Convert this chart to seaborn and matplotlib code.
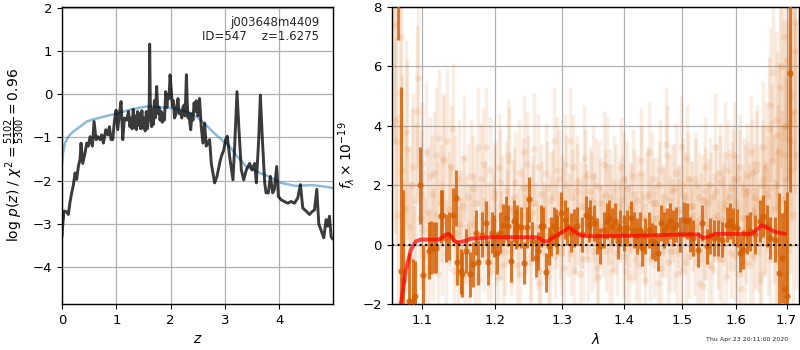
import numpy as np
import matplotlib
matplotlib.use("Agg")
import matplotlib.pyplot as plt
import seaborn as sns

# ---------------- left panel: log p(z) ----------------
z_pdf = [0.000, 0.012, 0.037, 0.086, 0.117, 0.147, 0.178, 0.209, 0.240, 0.270,
         0.301, 0.332, 0.350, 0.381, 0.424, 0.455, 0.485, 0.516, 0.559, 0.590,
         0.627, 0.657, 0.700, 0.731, 0.762, 0.805, 0.842, 0.872, 0.903, 0.934,
         0.965, 0.995, 1.026, 1.057, 1.087, 1.118, 1.149, 1.192, 1.223, 1.250,
         1.270, 1.290, 1.310, 1.330, 1.350, 1.370, 1.390, 1.410, 1.430, 1.450,
         1.470, 1.490, 1.510, 1.530, 1.550, 1.570, 1.590, 1.605, 1.613, 1.625,
         1.650, 1.665, 1.680, 1.700, 1.715, 1.742, 1.755, 1.770, 1.785, 1.804,
         1.825, 1.845, 1.865, 1.885, 1.908, 1.930, 1.950, 1.970, 1.988, 2.010,
         2.031, 2.050, 2.070, 2.092, 2.110, 2.135, 2.155, 2.184, 2.205, 2.225,
         2.246, 2.265, 2.289, 2.305, 2.320, 2.338, 2.355, 2.369, 2.390, 2.410,
         2.430, 2.450, 2.470, 2.500,
         2.531, 2.562, 2.593, 2.624, 2.654, 2.716, 2.747, 2.808, 2.851, 2.900,
         2.931, 2.974, 3.011, 3.041, 3.084, 3.146, 3.177, 3.220, 3.256, 3.300,
         3.343, 3.392, 3.453, 3.496, 3.545, 3.576, 3.619, 3.650, 3.687, 3.730,
         3.754, 3.797, 3.834, 3.877, 3.907, 3.950, 3.981, 4.030, 4.092, 4.153,
         4.215, 4.276, 4.337, 4.387, 4.430, 4.491, 4.553, 4.614, 4.645, 4.688,
         4.725, 4.768, 4.817, 4.860, 4.890, 4.921, 4.952, 4.982]
logp_pdf = [-3.30, -3.05, -2.70, -2.72, -2.78, -2.50, -2.28, -2.10, -1.82, -1.97,
            -1.67, -1.50, -1.13, -1.60, -1.36, -1.13, -1.20, -0.98, -1.20, -0.63,
            -1.05, -0.98, -1.05, -0.94, -1.13, -0.82, -0.94, -0.75, -1.05, -1.05,
            -0.60, -0.37, -0.82, -0.44, -0.17, -1.05, -0.55, -0.60, -0.40, -0.75,
            -0.55, -0.80, -0.35, -0.78, -0.50, -0.82, -0.40, -0.72, -0.45, -0.80,
            -0.38, -0.78, -0.55, -0.85, -0.40, -0.80, -0.60, -0.20, 1.16, -0.20,
            -0.75, -0.35, -0.70, -0.15, -0.55, 0.18, -0.20, -0.45, -0.30, -0.60,
            -0.40, -0.65, -0.44, -0.60, 0.06, -0.30, 0.00, -0.10, 0.45, 0.10,
            -0.28, -0.15, -0.55, -0.48, -0.30, -0.10, -0.45, -0.40, -0.55, -0.30,
            -0.25, -0.50, 0.45, -0.20, -0.55, -0.44, -0.70, -0.82, -0.45, -0.60,
            -0.20, -0.40, -0.15, -0.50,
            -0.10, -0.75, -1.13, -0.67, -1.20, -1.05, -1.60, -2.05, -1.90, -1.60,
            -1.44, -1.30, -1.05, -0.97, -1.44, -1.98, -1.20, 0.06, -0.82, -1.75,
            -1.98, -1.75, -1.60, -1.75, -1.60, -2.05, -1.05, -0.02, -1.05, -2.05,
            -2.28, -2.28, -1.90, -2.28, -2.20, -1.67, -2.36, -2.44, -2.48, -2.52,
            -2.48, -2.52, -2.40, -2.09, -2.63, -2.70, -2.78, -2.70, -2.68, -2.20,
            -3.00, -3.15, -3.32, -2.90, -3.05, -2.82, -3.30, -3.35]

z_prior = [0.000, 0.020, 0.055, 0.117, 0.209, 0.332, 0.455, 0.578, 0.762, 1.000,
           1.270, 1.570, 2.000, 2.200, 2.370, 2.470, 2.600, 2.800, 3.000, 3.080,
           3.200, 3.390, 3.600, 3.770, 4.030, 4.300, 4.600, 4.800, 4.990]
logp_prior = [-1.62, -1.35, -1.13, -0.98, -0.86, -0.75, -0.63, -0.58, -0.52, -0.45,
              -0.35, -0.28, -0.32, -0.36, -0.44, -0.52, -0.65, -0.90, -1.12, -1.20,
              -1.40, -1.67, -1.80, -1.88, -2.05, -2.12, -2.10, -2.13, -2.17]

# ---------------- right panel: spectrum ----------------
bin_wave = [1.0690, 1.0728, 1.0749, 1.0834, 1.0878, 1.0907, 1.0973, 1.1017, 1.1087, 1.1117,
            1.1161, 1.1192, 1.1250, 1.1272, 1.1317, 1.1362, 1.1416, 1.1453, 1.1476, 1.1522,
            1.1545, 1.1590, 1.1649, 1.1686, 1.1732, 1.1756, 1.1813, 1.1873, 1.1906, 1.1963,
            1.1988, 1.2035, 1.2070, 1.2117, 1.2157, 1.2190, 1.2229, 1.2278, 1.2303, 1.2327,
            1.2376, 1.2425, 1.2474, 1.2504, 1.2549, 1.2599, 1.2640, 1.2676, 1.2716, 1.2761,
            1.2802, 1.2828, 1.2879, 1.2905, 1.2930, 1.2982, 1.3049, 1.3085, 1.3138, 1.3190,
            1.3242, 1.3311, 1.3375, 1.3423, 1.3449, 1.3503, 1.3557, 1.3610, 1.3665, 1.3720,
            1.3758, 1.3802, 1.3857, 1.3896, 1.3940, 1.3997, 1.4052, 1.4119, 1.4164, 1.4220,
            1.4266, 1.4305, 1.4362, 1.4420, 1.4477, 1.4535, 1.4582, 1.4633, 1.4691, 1.4738,
            1.4796, 1.4844, 1.4903, 1.4974, 1.5035, 1.5089, 1.5149, 1.5209, 1.5300, 1.5373,
            1.5453, 1.5515, 1.5595, 1.5670, 1.5733, 1.5827, 1.5890, 1.5953, 1.6017, 1.6081,
            1.6145, 1.6210, 1.6274, 1.6372, 1.6469, 1.6535, 1.6601, 1.6667, 1.6766, 1.6853,
            1.6901, 1.6968, 1.7015, 1.7070]
bin_flux = [12.0, -0.90, -1.18, -1.90, -1.90, -1.74, 2.00, -1.03, -0.20, -0.10,
            -0.10, -0.10, 0.95, 1.00, 0.22, 0.28, 1.00, 1.57, -0.60, -0.90,
            -1.00, -0.22, -1.00, -0.67, 0.40, -0.60, 0.33, 0.73, -0.60, 0.40,
            0.28, -0.28, 0.40, 0.67, 0.90, 0.64, -0.56, 0.79, 0.50, 0.62,
            0.58, -0.62, 0.58, 1.52, 0.11, -0.45, -0.22, 0.62, 0.62, -0.93,
            -0.05, 0.28, 0.62, 0.56, 0.34, 1.07, 0.84, 0.62, 0.40, 0.56,
            0.62, 0.34, 1.00, 0.67, 0.90, 0.73, 0.28, -0.05, 0.50, 0.79,
            0.90, 0.62, 0.79, 0.11, 0.56, 0.40, 0.56, 0.88, 0.50, 0.28,
            0.50, -0.11, 0.28, 0.50, 0.11, 0.05, -0.28, 0.73, 0.50, 0.62,
            0.79, 0.56, 0.67, 0.34, 0.84, 0.79, 0.34, 0.22, -0.17, 0.73,
            -0.06, 0.28, 0.22, 0.22, 0.17, 0.67, 0.79, 0.62, 0.56, -0.28,
            -0.17, 0.34, 0.45, 0.34, 0.79, 0.96, 0.62, 0.22, 0.17, -0.96,
            -0.45, -1.50, -1.74, 5.76]
bin_err = [5.1, 6.2, 3.0, 1.6, 1.4, 1.2, 1.3, 1.0, 0.95, 0.9,
           0.85, 0.85, 0.9, 0.85, 0.8, 0.8, 0.9, 0.95, 0.75, 0.75,
           0.75, 0.75, 0.75, 0.75, 0.75, 0.75, 0.75, 0.75, 0.75, 0.7,
           0.7, 0.7, 0.7, 0.7, 0.75, 0.7, 0.7, 0.7, 0.65, 0.7,
           0.7, 0.7, 0.7, 0.75, 0.65, 0.65, 0.65, 0.7, 0.65, 0.65,
           0.65, 0.65, 0.65, 0.65, 0.65, 0.7, 0.65, 0.65, 0.65, 0.65,
           0.65, 0.6, 0.65, 0.6, 0.6, 0.6, 0.6, 0.6, 0.6, 0.6,
           0.6, 0.6, 0.6, 0.6, 0.6, 0.6, 0.6, 0.6, 0.6, 0.6,
           0.6, 0.6, 0.6, 0.6, 0.6, 0.6, 0.6, 0.6, 0.6, 0.6,
           0.6, 0.6, 0.6, 0.6, 0.6, 0.6, 0.6, 0.6, 0.6, 0.6,
           0.6, 0.6, 0.6, 0.6, 0.6, 0.6, 0.6, 0.6, 0.65, 0.65,
           0.65, 0.65, 0.65, 0.65, 0.7, 0.7, 0.7, 0.7, 0.75, 2.7,
           1.5, 3.0, 3.5, 4.0]

faint_wave = [1.064, 1.067, 1.071, 1.074, 1.078, 1.081, 1.085, 1.088, 1.092, 1.095,
              1.099, 1.102, 1.106, 1.109, 1.113, 1.116, 1.120, 1.123, 1.127, 1.130,
              1.134, 1.137, 1.141, 1.144, 1.148, 1.151, 1.155, 1.158, 1.162, 1.165,
              1.169, 1.172, 1.176, 1.179, 1.183, 1.186, 1.190, 1.193, 1.197, 1.200,
              1.204, 1.207, 1.211, 1.214, 1.218, 1.221, 1.225, 1.228, 1.232, 1.235,
              1.239, 1.242, 1.246, 1.249, 1.253, 1.256, 1.260, 1.263, 1.267, 1.270,
              1.274, 1.277, 1.281, 1.284, 1.288, 1.291, 1.295, 1.298, 1.302, 1.305,
              1.309, 1.312, 1.316, 1.319, 1.323, 1.326, 1.330, 1.333, 1.337, 1.340,
              1.344, 1.347, 1.351, 1.354, 1.358, 1.361, 1.365, 1.368, 1.372, 1.375,
              1.379, 1.382, 1.386, 1.389, 1.393, 1.396, 1.400, 1.403, 1.407, 1.410,
              1.414, 1.417, 1.421, 1.424, 1.428, 1.431, 1.435, 1.438, 1.442, 1.445,
              1.449, 1.452, 1.456, 1.459, 1.463, 1.466, 1.470, 1.473, 1.477, 1.480,
              1.484, 1.487, 1.491, 1.494, 1.498, 1.501, 1.505, 1.508, 1.512, 1.515,
              1.519, 1.522, 1.526, 1.529, 1.533, 1.536, 1.540, 1.543, 1.547, 1.550,
              1.554, 1.557, 1.561, 1.564, 1.568, 1.571, 1.575, 1.578, 1.582, 1.585,
              1.589, 1.592, 1.596, 1.599, 1.603, 1.606, 1.610, 1.613, 1.617, 1.620,
              1.624, 1.627, 1.631, 1.634, 1.638, 1.641, 1.645, 1.648, 1.652, 1.655,
              1.659, 1.662, 1.666, 1.669, 1.673, 1.676, 1.680, 1.683, 1.687, 1.690,
              1.694, 1.697, 1.701, 1.704, 1.708, 1.711, 1.715, 1.718]
faint_flux = [7.4, 3.5, 5.1, 2.5, 1.2, 3.2, -0.5, 2.6, 1.5, 5.6,
              1.7, 0.5, 3.1, -0.8, 1.7, 2.4, 1.0, 3.6, 0.2, 2.8,
              3.5, 0.9, 3.9, 1.8, -0.4, 0.7, 1.3, -1.2, 1.6, 0.3,
              1.9, -0.6, 3.3, 0.4, 2.7, 1.1, -0.3, 2.5, 0.8, 1.8,
              -1.1, 2.1, 1.3, -0.2, 0.9, 2.8, 0.1, 1.6, -0.7, 2.4,
              1.0, 3.1, 0.5, 2.0, -0.4, 1.4, 0.6, 2.6, -1.3, 1.2,
              0.3, 1.9, -0.8, 1.5, 3.5, 0.7, 2.2, -0.3, 1.1, 2.7,
              0.4, 3.5, 1.6, -0.9, 2.1, 0.8, 1.3, -0.5, 2.3, 1.0,
              1.8, -0.2, 0.9, 2.0, -1.1, 1.4, 0.3, 1.7, 2.6, -0.6,
              1.2, 0.5, 1.9, -0.3, 0.8, 1.5, 2.2, -0.9, 0.6, 1.3,
              0.1, 1.7, -0.5, 1.0, 2.4, 0.4, -1.2, 1.6, 3.1, 0.7,
              1.4, -0.4, 0.9, 2.0, -0.8, 1.2, 0.3, 3.0, 1.5, -0.2,
              0.8, 1.9, -1.0, 1.1, 3.3, 0.5, 1.6, -0.6, 2.2, 0.9,
              1.3, -0.3, 2.0, 0.6, -1.3, 1.5, 0.2, 1.8, 0.7, -0.7,
              1.6, 0.4, 3.3, 1.0, -0.5, 2.1, 0.8, 1.4, -1.1, 2.5,
              0.6, 1.9, 3.0, -0.4, 1.2, 2.2, -1.5, 0.9, 1.7, 0.3,
              1.8, -0.7, 2.4, 1.1, 0.2, 2.7, 1.5, -1.0, 2.2, 0.8,
              2.6, 0.4, 4.7, 1.9, 5.8, -0.3, 3.7, 2.0, 5.3, 1.5,
              7.0, 3.0, 4.0, 6.2, 2.5, 9.0, 4.5, 7.5]
faint_err = [4.0, 3.5, 3.0, 3.2, 2.8, 3.0, 2.6, 2.5, 2.6, 3.0,
             2.2, 2.0, 2.4, 1.9, 2.0, 2.1, 1.8, 2.3, 1.9, 2.2,
             2.4, 1.8, 2.2, 1.9, 1.7, 1.8, 1.7, 1.6, 1.8, 1.7,
             1.8, 1.6, 2.0, 1.6, 1.9, 1.7, 1.6, 1.8, 1.6, 1.7,
             1.6, 1.8, 1.7, 1.5, 1.6, 1.8, 1.5, 1.7, 1.5, 1.8,
             1.6, 1.9, 1.5, 1.7, 1.5, 1.6, 1.5, 1.8, 1.5, 1.6,
             1.5, 1.6, 1.4, 1.6, 1.8, 1.5, 1.7, 1.4, 1.5, 1.7,
             1.5, 1.8, 1.6, 1.4, 1.6, 1.5, 1.5, 1.4, 1.6, 1.5,
             1.5, 1.4, 1.5, 1.6, 1.4, 1.5, 1.4, 1.5, 1.7, 1.4,
             1.5, 1.4, 1.5, 1.4, 1.4, 1.5, 1.6, 1.4, 1.4, 1.5,
             1.4, 1.5, 1.4, 1.4, 1.6, 1.4, 1.4, 1.5, 1.7, 1.4,
             1.5, 1.4, 1.4, 1.5, 1.4, 1.5, 1.4, 1.7, 1.5, 1.4,
             1.4, 1.5, 1.4, 1.5, 1.7, 1.4, 1.5, 1.4, 1.6, 1.4,
             1.5, 1.4, 1.6, 1.4, 1.4, 1.5, 1.4, 1.5, 1.4, 1.4,
             1.5, 1.4, 1.8, 1.5, 1.4, 1.6, 1.5, 1.5, 1.5, 1.7,
             1.5, 1.6, 1.8, 1.5, 1.5, 1.7, 1.6, 1.6, 1.7, 1.6,
             1.7, 1.6, 1.8, 1.7, 1.7, 2.0, 1.9, 1.8, 2.0, 1.9,
             2.2, 2.1, 2.6, 2.3, 3.0, 2.5, 2.8, 2.7, 3.2, 3.0,
             3.5, 3.3, 3.6, 4.0, 3.5, 5.0, 4.5, 5.0]

faint2_wave = [1.0655, 1.0690, 1.0725, 1.0760, 1.0795, 1.0830, 1.0865, 1.0900, 1.0935, 1.0970,
               1.1005, 1.1040, 1.1075, 1.1110, 1.1145, 1.1180, 1.1215, 1.1250, 1.1285, 1.1320,
               1.1355, 1.1390, 1.1425, 1.1460, 1.1495, 1.1530, 1.1565, 1.1600, 1.1635, 1.1670,
               1.1705, 1.1740, 1.1775, 1.1810, 1.1845, 1.1880, 1.1915, 1.1950, 1.1985, 1.2020,
               1.2055, 1.2090, 1.2125, 1.2160, 1.2195, 1.2230, 1.2265, 1.2300, 1.2335, 1.2370,
               1.2405, 1.2440, 1.2475, 1.2510, 1.2545, 1.2580, 1.2615, 1.2650, 1.2685, 1.2720,
               1.2755, 1.2790, 1.2825, 1.2860, 1.2895, 1.2930, 1.2965, 1.3000, 1.3035, 1.3070,
               1.3105, 1.3140, 1.3175, 1.3210, 1.3245, 1.3280, 1.3315, 1.3350, 1.3385, 1.3420,
               1.3455, 1.3490, 1.3525, 1.3560, 1.3595, 1.3630, 1.3665, 1.3700, 1.3735, 1.3770,
               1.3805, 1.3840, 1.3875, 1.3910, 1.3945, 1.3980, 1.4015, 1.4050, 1.4085, 1.4120,
               1.4155, 1.4190, 1.4225, 1.4260, 1.4295, 1.4330, 1.4365, 1.4400, 1.4435, 1.4470,
               1.4505, 1.4540, 1.4575, 1.4610, 1.4645, 1.4680, 1.4715, 1.4750, 1.4785, 1.4820,
               1.4855, 1.4890, 1.4925, 1.4960, 1.4995, 1.5030, 1.5065, 1.5100, 1.5135, 1.5170,
               1.5205, 1.5240, 1.5275, 1.5310, 1.5345, 1.5380, 1.5415, 1.5450, 1.5485, 1.5520,
               1.5555, 1.5590, 1.5625, 1.5660, 1.5695, 1.5730, 1.5765, 1.5800, 1.5835, 1.5870,
               1.5905, 1.5940, 1.5975, 1.6010, 1.6045, 1.6080, 1.6115, 1.6150, 1.6185, 1.6220,
               1.6255, 1.6290, 1.6325, 1.6360, 1.6395, 1.6430, 1.6465, 1.6500, 1.6535, 1.6570,
               1.6605, 1.6640, 1.6675, 1.6710, 1.6745, 1.6780, 1.6815, 1.6850, 1.6885, 1.6920,
               1.6955, 1.6990, 1.7025, 1.7060, 1.7095, 1.7130, 1.7165, 1.7200]
faint2_flux = [4.2, 1.0, 7.0, -0.8, 3.8, 0.6, 2.0, -1.5, 4.5, 0.9,
               2.7, -0.4, 1.1, 2.3, 0.0, 3.0, -1.0, 1.4, 2.9, -0.3,
               1.2, 2.6, -0.9, 0.4, 2.2, -0.1, 2.9, 0.6, -0.8, 2.3,
               0.7, 1.4, -1.2, 2.2, 0.0, 3.3, 0.5, -0.9, 1.6, 0.2,
               2.6, 0.3, -0.7, 1.8, 3.0, -0.2, 1.2, 2.1, 0.4, -1.0,
               1.9, 0.2, 2.7, -0.6, 1.1, 3.2, 0.0, -0.9, 1.7, 0.6,
               2.4, -1.1, 0.8, 1.6, -0.4, 2.5, 0.3, 1.4, -0.8, 2.0,
               0.9, -0.3, 2.6, 0.5, 1.8, -1.0, 0.7, 2.9, 1.2, -0.5,
               1.5, 2.3, 0.1, -0.8, 1.9, 0.6, 2.7, -0.2, 1.0, 1.6,
               -0.9, 2.1, 0.4, 1.3, 2.6, -0.4, 0.8, 1.9, -1.1, 1.2,
               2.3, 0.2, 1.5, -0.7, 2.8, 0.9, 0.0, 1.7, -0.5, 2.2,
               0.6, 1.4, -1.3, 2.5, 0.3, 1.1, 3.4, -0.6, 0.8, 1.8,
               -0.2, 2.4, 0.7, 1.2, -0.9, 2.0, 0.4, 2.9, -0.4, 1.3,
               0.5, 2.2, -0.6, 1.6, 0.9, -1.4, 2.6, 0.2, 1.4, 2.0,
               -0.8, 0.9, 1.8, 0.0, 2.4, -0.5, 1.2, 3.0, 0.4, 1.6,
               -0.3, 2.2, 0.7, 1.4, -1.0, 2.6, 0.5, 1.9, -0.6, 2.3,
               1.0, 3.1, -0.4, 1.6, 2.5, 0.2, -1.2, 2.0, 3.3, 0.9,
               1.7, 3.9, -0.5, 2.8, 1.2, 4.2, 0.6, 3.1, 6.0, 1.0,
               4.0, 2.2, 8.0, 3.5, 5.0, 1.0, 6.5, 3.0]
faint2_err = [3.8, 3.4, 3.6, 3.0, 3.1, 2.7, 2.6, 2.8, 2.9, 2.4,
              2.1, 2.0, 2.2, 2.0, 1.9, 2.3, 1.9, 2.0, 2.2, 1.8,
              1.9, 2.1, 1.7, 1.8, 2.0, 1.7, 2.1, 1.7, 1.6, 1.9,
              1.7, 1.8, 1.6, 1.9, 1.6, 2.0, 1.6, 1.6, 1.8, 1.6,
              1.8, 1.5, 1.6, 1.7, 1.9, 1.5, 1.6, 1.7, 1.5, 1.6,
              1.7, 1.5, 1.8, 1.5, 1.6, 1.9, 1.5, 1.5, 1.7, 1.5,
              1.7, 1.5, 1.5, 1.6, 1.4, 1.8, 1.5, 1.6, 1.5, 1.7,
              1.5, 1.4, 1.8, 1.5, 1.6, 1.5, 1.5, 1.8, 1.5, 1.4,
              1.6, 1.7, 1.4, 1.5, 1.6, 1.4, 1.8, 1.4, 1.5, 1.6,
              1.5, 1.6, 1.4, 1.5, 1.7, 1.4, 1.5, 1.6, 1.5, 1.5,
              1.6, 1.4, 1.5, 1.4, 1.8, 1.5, 1.4, 1.6, 1.4, 1.6,
              1.4, 1.5, 1.5, 1.7, 1.4, 1.5, 1.9, 1.4, 1.5, 1.6,
              1.4, 1.7, 1.5, 1.5, 1.5, 1.6, 1.4, 1.8, 1.4, 1.5,
              1.4, 1.6, 1.5, 1.5, 1.5, 1.5, 1.7, 1.4, 1.5, 1.6,
              1.5, 1.5, 1.6, 1.5, 1.7, 1.5, 1.5, 1.8, 1.5, 1.6,
              1.5, 1.7, 1.6, 1.6, 1.6, 1.8, 1.6, 1.7, 1.6, 1.8,
              1.7, 1.9, 1.7, 1.8, 2.0, 1.8, 1.9, 2.0, 2.2, 1.9,
              2.0, 2.4, 2.2, 2.6, 2.5, 3.0, 2.7, 3.0, 3.4, 3.0,
              3.6, 3.4, 4.5, 3.8, 4.2, 3.5, 4.8, 4.5]

model_wave = [1.0700, 1.0728, 1.0792, 1.0856, 1.0920, 1.0986, 1.1230, 1.1317, 1.1362, 1.1407,
              1.1453, 1.1522, 1.1590, 1.1662, 1.1800, 1.1944, 1.2600, 1.2650, 1.2728, 1.2780,
              1.2856, 1.2982, 1.3111, 1.3190, 1.3295, 1.3428, 1.4200, 1.5012, 1.5300, 1.5388,
              1.5484, 1.5608, 1.6306, 1.6404, 1.6502, 1.6634, 1.6766, 1.6968]
model_flux = [-2.60, -1.97, -0.84, -0.17, 0.11, 0.17, 0.17, 0.34, 0.36, 0.22,
              0.08, 0.09, 0.13, 0.20, 0.22, 0.25, 0.25, 0.22, 0.11, 0.11,
              0.22, 0.39, 0.56, 0.45, 0.31, 0.28, 0.30, 0.34, 0.34, 0.22,
              0.26, 0.36, 0.36, 0.50, 0.65, 0.54, 0.43, 0.36]

wave_ticks = [1.1, 1.2, 1.3, 1.4, 1.5, 1.6, 1.7]
wave_ticklabels = ["1.1", "1.2", "1.3", "1.4", "1.5", "1.6", "1.7"]

# ---------------- style ----------------
sns.set_style("ticks", {"axes.grid": True, "grid.color": "#b0b0b0",
                        "axes.edgecolor": "black", "xtick.color": "black",
                        "ytick.color": "black", "axes.labelcolor": "black"})
plt.rcParams["font.family"] = ["DejaVu Sans"]
plt.rcParams["mathtext.fontset"] = "dejavusans"

G141 = (0.8352941176470589, 0.3686274509803922, 0.0)

fig = plt.figure(figsize=(8, 3.5), dpi=100)
ax1 = fig.add_axes([0.0775, 0.1314, 0.339, 0.849])
ax2 = fig.add_axes([0.4896, 0.1314, 0.5095, 0.849])

# left
sns.lineplot(x=z_prior, y=logp_prior, ax=ax1, color="#1f77b4", alpha=0.5, lw=1.8,
             sort=False, estimator=None)
sns.lineplot(x=z_pdf, y=logp_pdf, ax=ax1, color="black", alpha=0.77, lw=2.1,
             sort=False, estimator=None)
ax1.set_xlim(0, 4.99)
ax1.set_ylim(-4.85, 2.02)
ax1.set_xticks([0, 1, 2, 3, 4])
ax1.set_yticks([-4, -3, -2, -1, 0, 1, 2])
ax1.set_xlabel(r"$z$", fontsize=10)
ax1.set_ylabel(r"log $p(z)$ / $\chi^2=\frac{5102}{5300}=0.96$", fontsize=10)
ax1.text(0.948, 0.97, "j003648m4409\nID=547    z=1.6275", transform=ax1.transAxes,
         ha="right", va="top", fontsize=8.5, linespacing=1.1)
ax1.grid(True, color="#b0b0b0", lw=0.9)

# right
for fw, ff, fe in ((faint_wave, faint_flux, faint_err),
                   (faint2_wave, faint2_flux, faint2_err)):
    ax2.errorbar(fw, ff, yerr=fe, fmt="o", color=G141,
                 alpha=0.11, ms=5, elinewidth=2.5, mew=0, zorder=2)
ax2.errorbar(bin_wave, bin_flux, yerr=bin_err, fmt="o", color=G141,
             alpha=0.8, ms=4.5, elinewidth=2.2, mew=0, zorder=3)
sns.lineplot(x=model_wave, y=model_flux, ax=ax2, color="red", alpha=0.7, lw=2.8,
             sort=False, estimator=None, zorder=4)
ax2.axhline(0, color="black", ls=":", lw=1.5, zorder=5)
ax2.set_xscale("log")
ax2.set_xlim(1.061, 1.726)
ax2.set_ylim(-2, 8)
ax2.xaxis.set_minor_locator(matplotlib.ticker.NullLocator())
ax2.set_xticks(wave_ticks)
ax2.set_xticklabels(wave_ticklabels)
ax2.set_yticks([-2, 0, 2, 4, 6, 8])
ax2.set_xlabel(r"$\lambda$", fontsize=10)
ax2.set_ylabel(r"$f_\lambda\times10^{-19}$", fontsize=10)
ax2.grid(True, color="#b0b0b0", lw=0.9)

for ax in (ax1, ax2):
    ax.tick_params(labelsize=9.5, direction="out", length=3.5, width=0.8)
    for s in ax.spines.values():
        s.set_linewidth(1.0)
        s.set_color("black")

fig.text(0.985, 0.022, "Thu Apr 23 20:11:00 2020", ha="right", va="bottom", fontsize=4.5)

fig.savefig("out.png", dpi=100)
